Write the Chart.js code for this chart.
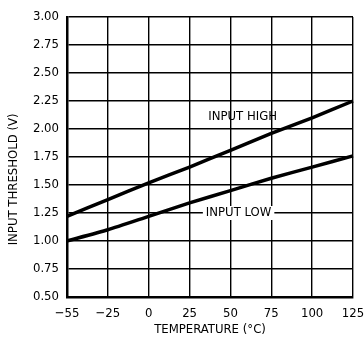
<!DOCTYPE html>
<html>
<head>
<meta charset="utf-8">
<title>Input Threshold vs Temperature</title>
<script src="https://cdn.jsdelivr.net/npm/chart.js"></script>
<style>
  body { margin: 0; background: #fff; }
  #wrap { width: 364px; height: 337px; }
</style>
</head>
<body>
<div id="wrap"><canvas id="myChart" width="364" height="337"></canvas></div>
<script>
// Temperature columns (the datasheet grid spaces -55 like every other step)
const temps = ['\u221255', '\u221225', '0', '25', '50', '75', '100', '125'];
// Threshold voltages
const inputHigh = [1.22, 1.37, 1.52, 1.66, 1.81, 1.96, 2.10, 2.25];
const inputLow = [1.00, 1.10, 1.22, 1.34, 1.45, 1.56, 1.66, 1.76];
// Curve labels: [text, column index, value, white box behind]
const curveLabels = [['INPUT HIGH', 4.3, 2.11, false], ['INPUT LOW', 4.2, 1.25, true]];
const yTitle = 'INPUT THRESHOLD (V)';

const FONT = '"Liberation Sans Narrow", "DejaVu Sans Condensed", "Liberation Sans", sans-serif';

// Draws the curve names (INPUT LOW breaks the grid line behind it)
// and the y title, which sits a bit below the plot's middle in the original
const curveLabelPlugin = {
  id: 'curveLabels',
  afterDatasetsDraw(chart) {
    const ctx = chart.ctx;
    const x = chart.scales.x, y = chart.scales.y;
    ctx.save();
    ctx.font = '13px ' + FONT;
    ctx.textAlign = 'center';
    ctx.textBaseline = 'middle';
    curveLabels.forEach(([text, col, val, box]) => {
      const px = x.getPixelForValue(col);
      const py = y.getPixelForValue(val);
      const w = ctx.measureText(text).width;
      if (box) {
        ctx.fillStyle = '#fff';
        ctx.fillRect(px - w / 2 - 3, py - 7, w + 6, 14);
      }
      ctx.fillStyle = '#000';
      ctx.fillText(text, px, py);
    });
    ctx.translate(14, y.getPixelForValue(1.55));
    ctx.rotate(-Math.PI / 2);
    ctx.fillText(yTitle, 0, 0);
    ctx.restore();
  }
};

const ctx = document.getElementById('myChart').getContext('2d');
new Chart(ctx, {
  type: 'line',
  data: {
    labels: temps,
    datasets: [
      { label: 'INPUT HIGH', data: inputHigh, borderColor: '#000', borderWidth: 3.5, pointRadius: 0, tension: 0.2, fill: false },
      { label: 'INPUT LOW', data: inputLow, borderColor: '#000', borderWidth: 3.5, pointRadius: 0, tension: 0.2, fill: false }
    ]
  },
  options: {
    responsive: false,
    animation: false,
    layout: { padding: { left: 3, right: 11, top: 17, bottom: 0 } },
    plugins: { legend: { display: false }, tooltip: { enabled: false } },
    scales: {
      x: {
        type: 'category',
        offset: false,
        grid: { color: '#000', lineWidth: 1.4, drawTicks: false },
        border: { color: '#000', width: 2.5 },
        ticks: { color: '#000', font: { family: FONT, size: 13 }, padding: 9, maxRotation: 0, autoSkip: false },
        title: { display: true, text: 'TEMPERATURE (\u00B0C)', color: '#000', font: { family: FONT, size: 13 }, padding: { top: 0, bottom: 0 } },
        afterFit(scale) {
          scale.height = 40;
          // let the end labels overhang instead of shrinking the plot
          scale.paddingLeft = 0;
          scale.paddingRight = 0;
        }
      },
      y: {
        min: 0.5,
        max: 3.0,
        grid: { color: '#000', lineWidth: 1.4, drawTicks: false },
        border: { color: '#000', width: 2.5 },
        ticks: { stepSize: 0.25, color: '#000', font: { family: FONT, size: 13 }, padding: 8, callback: v => v.toFixed(2) },
        title: { display: false },
        afterFit(scale) {
          scale.width = 64;
          scale.paddingTop = 0;
          scale.paddingBottom = 0;
        }
      }
    }
  },
  plugins: [curveLabelPlugin]
});
</script>
</body>
</html>
